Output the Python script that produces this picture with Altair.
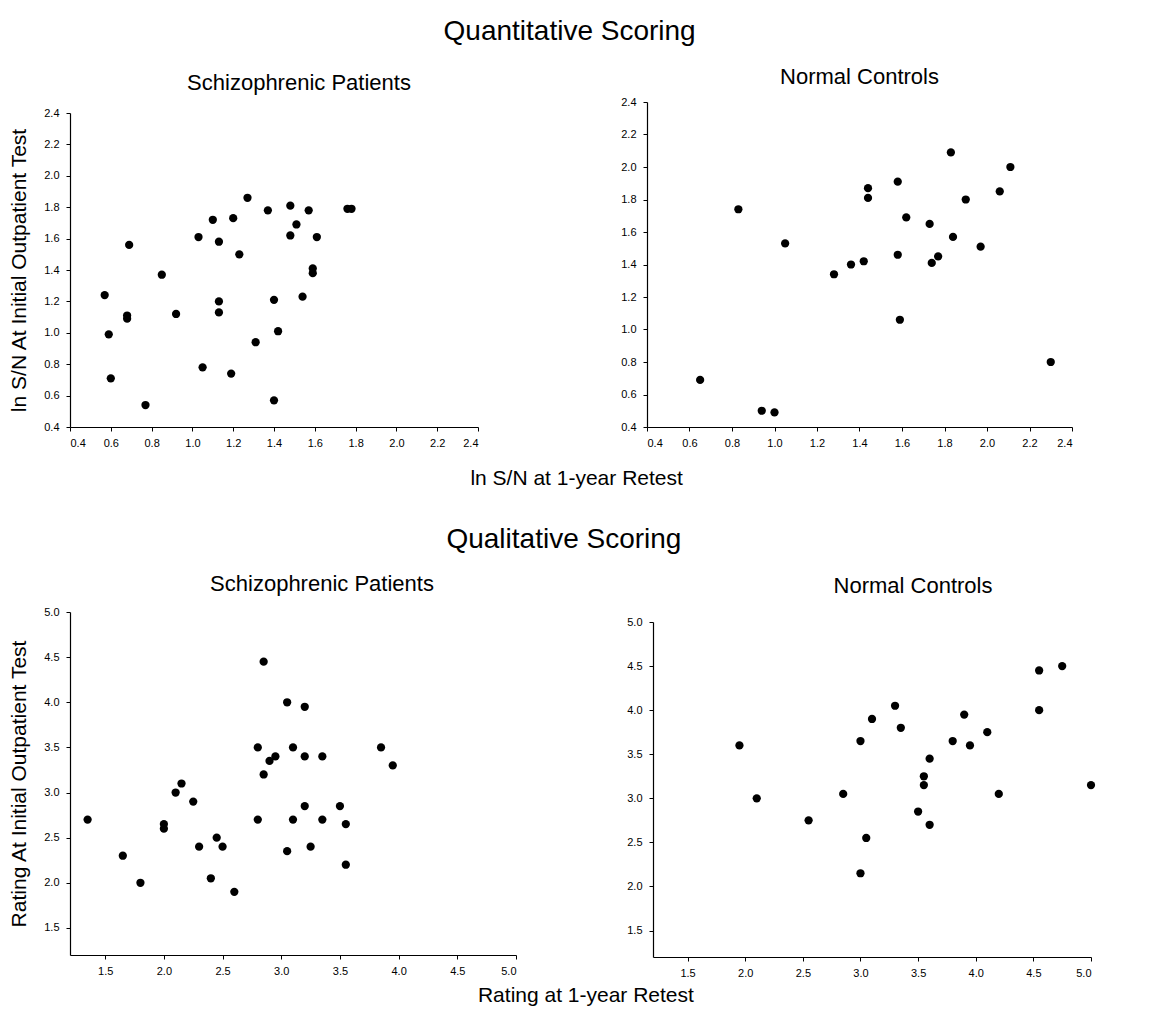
import altair as alt
import pandas as pd

# ---------------- data ----------------
# Quantitative scoring, schizophrenic patients
qn_sz_x = [0.57, 0.59, 0.60, 0.69, 0.68, 0.68, 0.77, 0.85, 0.92, 1.03, 1.05, 1.10,
           1.13, 1.13, 1.13, 1.19, 1.20, 1.23, 1.27, 1.31, 1.37, 1.40, 1.40, 1.42,
           1.48, 1.48, 1.51, 1.54, 1.57, 1.59, 1.59, 1.61, 1.76, 1.78]
qn_sz_y = [1.24, 0.99, 0.71, 1.56, 1.11, 1.09, 0.54, 1.37, 1.12, 1.61, 0.78, 1.72,
           1.58, 1.20, 1.13, 0.74, 1.73, 1.50, 1.86, 0.94, 1.78, 1.21, 0.57, 1.01,
           1.81, 1.62, 1.69, 1.23, 1.78, 1.38, 1.41, 1.61, 1.79, 1.79]
# Quantitative scoring, normal controls
qn_nc_x = [0.65, 0.83, 0.94, 1.00, 1.05, 1.28, 1.36, 1.42, 1.44, 1.44, 1.58, 1.58,
           1.59, 1.62, 1.73, 1.74, 1.77, 1.83, 1.84, 1.90, 1.97, 2.06, 2.11, 2.30]
qn_nc_y = [0.69, 1.74, 0.50, 0.49, 1.53, 1.34, 1.40, 1.42, 1.81, 1.87, 1.91, 1.46,
           1.06, 1.69, 1.65, 1.41, 1.45, 2.09, 1.57, 1.80, 1.51, 1.85, 2.00, 0.80]
# Qualitative scoring, schizophrenic patients
ql_sz_x = [1.35, 1.65, 1.80, 2.00, 2.00, 2.10, 2.15, 2.25, 2.30, 2.40, 2.45, 2.50,
           2.60, 2.80, 2.80, 2.85, 2.85, 2.90, 2.95, 3.05, 3.05, 3.10, 3.10, 3.20,
           3.20, 3.20, 3.25, 3.35, 3.35, 3.50, 3.55, 3.55, 3.85, 3.95]
ql_sz_y = [2.70, 2.30, 2.00, 2.65, 2.60, 3.00, 3.10, 2.90, 2.40, 2.05, 2.50, 2.40,
           1.90, 3.50, 2.70, 4.45, 3.20, 3.35, 3.40, 4.00, 2.35, 3.50, 2.70, 3.95,
           3.40, 2.85, 2.40, 3.40, 2.70, 2.85, 2.65, 2.20, 3.50, 3.30]
# Qualitative scoring, normal controls
ql_nc_x = [1.95, 2.10, 2.55, 2.85, 3.00, 3.00, 3.05, 3.10, 3.30, 3.35, 3.50, 3.55,
           3.55, 3.60, 3.60, 3.80, 3.90, 3.95, 4.10, 4.20, 4.55, 4.55, 4.75, 5.00]
ql_nc_y = [3.60, 3.00, 2.75, 3.05, 3.65, 2.15, 2.55, 3.90, 4.05, 3.80, 2.85, 3.25,
           3.15, 3.45, 2.70, 3.65, 3.95, 3.60, 3.75, 3.05, 4.45, 4.00, 4.50, 3.15]

quant_ticks = [0.4, 0.6, 0.8, 1.0, 1.2, 1.4, 1.6, 1.8, 2.0, 2.2, 2.4]
qual_ticks = [1.5, 2.0, 2.5, 3.0, 3.5, 4.0, 4.5, 5.0]

FONT = "Liberation Sans"


def sub_title(text, toff, tdx):
    return alt.Title(text, fontSize=22, fontWeight="normal", font=FONT,
                     anchor="middle", offset=toff, dx=tdx)


def panel(xs, ys, domain, ticks, w, h, ytitle=None, title=None):
    df = pd.DataFrame({"x": xs, "y": ys})
    xaxis = alt.Axis(values=ticks, format=".1f", title=None, grid=False,
                     tickSize=4, labelPadding=6, labelFontSize=11)
    yaxis = alt.Axis(values=ticks, format=".1f", title=ytitle, grid=False,
                     tickSize=4, labelPadding=7, labelFontSize=11,
                     titleFontSize=21, titleFontWeight="normal", titlePadding=14)
    props = dict(width=w, height=h)
    if title is not None:
        props["title"] = title
    return alt.Chart(df).mark_circle(size=68, color="black", opacity=1).encode(
        x=alt.X("x:Q", scale=alt.Scale(domain=domain, nice=False, zero=False), axis=xaxis),
        y=alt.Y("y:Q", scale=alt.Scale(domain=domain, nice=False, zero=False), axis=yaxis),
    ).properties(**props)


def spacer(w, title):
    # an empty strip that carries a panel title and lowers the panel below it
    return alt.Chart(pd.DataFrame({"v": [0]})).mark_point(opacity=0).encode(
        x=alt.X("v:Q", axis=None), y=alt.Y("v:Q", axis=None)
    ).properties(width=w, height=1, title=title)


p1 = alt.vconcat(
    spacer(408, sub_title("Schizophrenic Patients", 5, 25)),
    panel(qn_sz_x, qn_sz_y, [0.4, 2.4], quant_ticks, 408, 314,
          ytitle="ln S/N At Initial Outpatient Test"),
    spacing=1,
)
p2 = panel(qn_nc_x, qn_nc_y, [0.4, 2.4], quant_ticks, 425, 325,
           title=sub_title("Normal Controls", 7, 0))
p3 = panel(ql_sz_x, ql_sz_y, [1.2, 5.0], qual_ticks, 446, 343,
           ytitle="Rating At Initial Outpatient Test",
           title=sub_title("Schizophrenic Patients", 10, 29))
p4 = alt.vconcat(
    spacer(438, sub_title("Normal Controls", 12, 41)),
    panel(ql_nc_x, ql_nc_y, [1.2, 5.0], qual_ticks, 438, 335),
    spacing=0,
)

row1 = alt.vconcat(
    alt.hconcat(p1, p2, spacing=141,
                title=alt.Title("ln S/N at 1-year Retest", orient="bottom", fontSize=21,
                                fontWeight="normal", font=FONT, anchor="middle",
                                offset=20, dx=36)),
    title=alt.Title("Quantitative Scoring", fontSize=28, fontWeight="normal", font=FONT,
                    anchor="middle", offset=20, dx=29),
)
row2 = alt.vconcat(
    alt.hconcat(p3, p4, spacing=109,
                title=alt.Title("Rating at 1-year Retest", orient="bottom", fontSize=21,
                                fontWeight="normal", font=FONT, anchor="middle",
                                offset=7, dx=34)),
    title=alt.Title("Qualitative Scoring", fontSize=28, fontWeight="normal", font=FONT,
                    anchor="middle", offset=19, dx=12),
)

chart = alt.vconcat(row1, row2, spacing=37).configure_view(stroke=None).configure_axis(
    domainColor="black", tickColor="black", labelColor="black", titleColor="black",
    labelFont=FONT, titleFont=FONT, domainWidth=1.2, tickWidth=1,
).configure_title(color="black").properties(
    padding={"left": 0, "top": 10, "right": 5, "bottom": 5}, background="white"
)

chart.save("out.html", embed_options={"renderer": "svg", "actions": False})
